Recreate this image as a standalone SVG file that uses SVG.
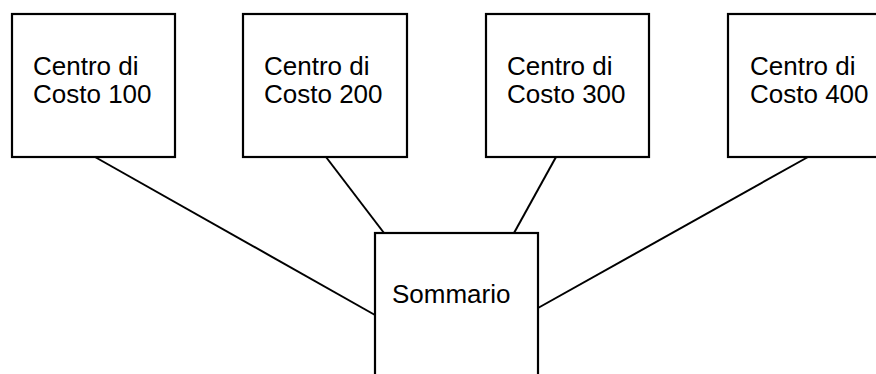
<svg xmlns="http://www.w3.org/2000/svg" width="876" height="374" viewBox="0 0 876 374">
<style>
.box{fill:#fff;stroke:#000;stroke-width:2.2}
.lbl{font-family:"Liberation Sans",Arial,sans-serif;font-size:26px;fill:#000}
.conn line{stroke:#000;stroke-width:2}
</style>
<rect width="876" height="374" fill="#fff"/>
<g class="conn" id="connectors">
<line x1="95" y1="157" x2="375" y2="315"/>
<line x1="326" y1="157" x2="384" y2="233"/>
<line x1="556" y1="157" x2="514" y2="233"/>
<line x1="808" y1="157" x2="538" y2="308"/>
</g>
<g id="cc100"><rect class="box" x="12" y="14" width="163" height="143"/><text class="lbl" x="33" y="75">Centro di</text><text class="lbl" x="33" y="103">Costo 100</text></g>
<g id="cc200"><rect class="box" x="243" y="14" width="164" height="143"/><text class="lbl" x="264" y="75">Centro di</text><text class="lbl" x="264" y="103">Costo 200</text></g>
<g id="cc300"><rect class="box" x="486" y="14" width="163" height="143"/><text class="lbl" x="507" y="75">Centro di</text><text class="lbl" x="507" y="103">Costo 300</text></g>
<g id="cc400"><rect class="box" x="728" y="14" width="164" height="143"/><text class="lbl" x="750" y="75">Centro di</text><text class="lbl" x="750" y="103">Costo 400</text></g>
<g id="sommario"><rect class="box" x="375" y="233" width="163" height="160"/><text class="lbl" x="392" y="303">Sommario</text></g>
</svg>
